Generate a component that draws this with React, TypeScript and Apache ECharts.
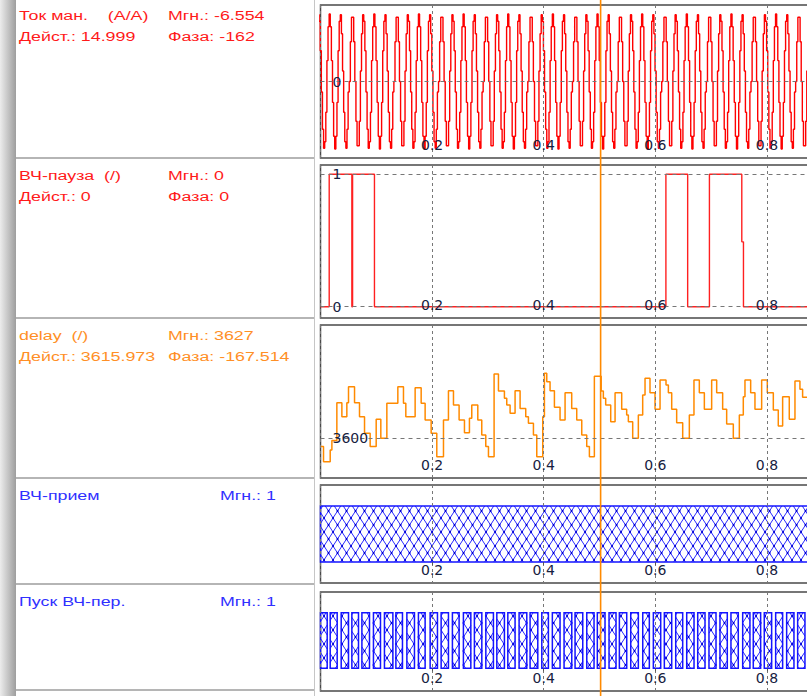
import React, { useEffect, useRef } from "react";
import * as echarts from "echarts";

// ---- channel captions -------------------------------------------------------
const CHANNEL_NAMES = ["Ток ман.    (A/A)", "ВЧ-пауза  (/)", "delay  (/)", "ВЧ-прием", "Пуск ВЧ-пер."];
const CHANNEL_INST = ["Мгн.: -6.554", "Мгн.: 0", "Мгн.: 3627", "Мгн.: 1", "Мгн.: 1"];
const CHANNEL_RMS = ["Дейст.: 14.999", "Дейст.: 0", "Дейст.: 3615.973", "", ""];
const CHANNEL_PHASE = ["Фаза: -162", "Фаза: 0", "Фаза: -167.514", "", ""];

// ---- time axis --------------------------------------------------------------
const X_MIN = 0;
const X_MAX = 1;
const X_STEP = 0.2;
const CURSOR_T = 0.502;

// ---- Ток ман.: 2 ms samples of a 50 Hz current, four successive cycles -------
const CURRENT_PEAK = 21.21;
const CURRENT_T0 = -0.0285;
const CURRENT_DT = 0.002;
const CURRENT_CYCLES = [
  0, 0.588, 0.951, 0.951, 0.588, 0, -0.588, -0.951, -0.951, -0.588,
  0.156, 0.707, 0.988, 0.891, 0.454, -0.156, -0.707, -0.988, -0.891, -0.454,
  0.309, 0.809, 1, 0.809, 0.309, -0.309, -0.809, -1, -0.809, -0.309,
  0.454, 0.891, 0.988, 0.707, 0.156, -0.454, -0.891, -0.988, -0.707, -0.156,
];
const CURRENT_Y_TICKS = [0];

// ---- ВЧ-пауза: [time, state] --------------------------------------------------
const PAUSE_STEPS = [
  [0, 0], [0.0156, 1], [0.0562, 0], [0.0575, 1], [0.0967, 0],
  [0.619, 1], [0.658, 0], [0.697, 1], [0.755, 0.49], [0.758, 0], [1, 0],
];
const PAUSE_Y_TICKS = [0, 1];

// ---- delay: [time, value] -------------------------------------------------------
const DELAY_STEPS = [
  [0, 3596.4], [0.0054, 3589.8], [0.0174, 3594.9], [0.0204, 3599.0], [0.0293, 3615.5],
  [0.0383, 3609.4], [0.0472, 3615.5], [0.0502, 3622.4], [0.061, 3615.5], [0.0699, 3609.4],
  [0.0789, 3602.2], [0.089, 3596.4], [0.0998, 3608.3], [0.1081, 3600.0], [0.1189, 3615.2],
  [0.1386, 3622.4], [0.1487, 3615.2], [0.1529, 3609.4], [0.1696, 3622.0], [0.1804, 3615.2],
  [0.1875, 3608.0], [0.1983, 3602.2], [0.2084, 3592.0], [0.2204, 3608.0], [0.2293, 3620.7],
  [0.2383, 3614.5], [0.2484, 3608.0], [0.258, 3602.4], [0.2669, 3608.7], [0.2711, 3614.5],
  [0.2819, 3608.0], [0.289, 3601.4], [0.2962, 3596.4], [0.301, 3592.0], [0.3111, 3628.0],
  [0.3189, 3620.6], [0.3296, 3617.4], [0.3338, 3614.5], [0.3398, 3610.9], [0.3487, 3620.7],
  [0.3577, 3613.0], [0.3678, 3609.4], [0.3726, 3606.5], [0.3816, 3601.4], [0.3876, 3592.0],
  [0.3983, 3609.4], [0.4013, 3628.3], [0.4055, 3624.6], [0.4114, 3620.7], [0.4192, 3613.5],
  [0.4293, 3608.0], [0.4383, 3619.8], [0.4502, 3612.9], [0.4592, 3608.0], [0.4682, 3601.4],
  [0.4771, 3596.4], [0.4819, 3592.0], [0.4908, 3627.0], [0.503, 3620.6], [0.5069, 3617.4],
  [0.5111, 3614.5], [0.5201, 3607.2], [0.5279, 3619.8], [0.5398, 3612.6], [0.5487, 3610.1],
  [0.5517, 3607.2], [0.5595, 3600.0], [0.5696, 3610.1], [0.5774, 3618.8], [0.5816, 3626.1],
  [0.5905, 3619.8], [0.5995, 3612.6], [0.6085, 3625.4], [0.6192, 3623.2], [0.6234, 3619.8],
  [0.6294, 3612.6], [0.6383, 3606.8], [0.6491, 3600.0], [0.661, 3610.1], [0.6693, 3625.4],
  [0.6789, 3619.8], [0.6879, 3612.6], [0.701, 3625.4], [0.71, 3619.8], [0.7207, 3612.6],
  [0.7279, 3606.2], [0.7398, 3600.0], [0.7506, 3610.1], [0.7577, 3618.1], [0.7607, 3625.4],
  [0.7709, 3619.8], [0.7786, 3612.6], [0.7906, 3625.4], [0.8007, 3619.8], [0.8115, 3612.3],
  [0.8204, 3605.3], [0.8282, 3618.1], [0.8401, 3608.3], [0.8503, 3624.9], [0.8592, 3621.3],
  [0.864, 3617.8], [0.9, 3617.8],
];
const DELAY_Y_TICKS = [3600];

// ---- ВЧ-прием: intervals in state 1 -------------------------------------------
const RECEIVE_ON = [0];
const RECEIVE_OFF = [1];

// ---- Пуск ВЧ-пер.: intervals in state 1 -----------------------------------------
const START_ON = [
  0.0, 0.0174, 0.0371, 0.0562, 0.0742, 0.0949, 0.1146, 0.1351, 0.1548, 0.1755,
  0.1965, 0.2162, 0.2364, 0.2561, 0.2758, 0.2963, 0.316, 0.3357, 0.3559, 0.3756,
  0.3966, 0.4155, 0.4365, 0.4562, 0.4772, 0.4961, 0.5171, 0.5356, 0.556, 0.5775,
  0.5965, 0.6162, 0.6366, 0.6563, 0.676, 0.6962, 0.7159, 0.7356, 0.7566, 0.7756,
  0.7953, 0.8157, 0.8354, 0.8551, 0.875,
];
const START_OFF = [
  0.012, 0.0299, 0.0502, 0.0681, 0.0878, 0.1075, 0.1297, 0.1469, 0.1684, 0.1875,
  0.2096, 0.2293, 0.2484, 0.2694, 0.2891, 0.3099, 0.3296, 0.3487, 0.3697, 0.3894,
  0.4084, 0.4293, 0.4503, 0.47, 0.4902, 0.5099, 0.5296, 0.5488, 0.5696, 0.5893,
  0.6097, 0.6294, 0.6491, 0.6694, 0.6891, 0.7088, 0.729, 0.7487, 0.7696, 0.7888,
  0.8085, 0.8282, 0.8485, 0.8682, 0.888,
];

// ---- layout & styles ------------------------------------------------------------
const PAGE_W = 807;
const PAGE_H = 696;
const PLOT_LEFT = 320.5;
const PLOT_WIDTH = 558;
const PANELS = [
  { top: 5, height: 153, yMin: -24, yMax: 24 },
  { top: 165, height: 153, yMin: -0.085, yMax: 1.07 },
  { top: 325, height: 153, yMin: 3582.7, yMax: 3649.3 },
  { top: 485, height: 98, yMin: -0.375, yMax: 1.375 },
  { top: 592, height: 99, yMin: -0.408, yMax: 1.372 },
];
const ROW_TOPS = [0, 160, 320, 480, 586];
const SEPARATORS = [158, 318, 478, 584, 690];
const CAPTION_COLORS = ["#ff1a1a", "#ff1a1a", "#ff8f26", "#3030ff", "#3030ff"];
const INST_X = [168, 168, 168, 220, 220];
const RED = "#ff0000";
const ORANGE = "#ff8a00";
const BLUE = "#1414ff";
const AXIS_TEXT = "#16213f";
const GRID_DASH = "#777777";
const TEXT_FONT = "Liberation Sans";
const TEXT_SCALE_X = 1.32;
const HATCH_W = 9;
const HATCH_H = 14;

// Cross-hatch clipped to a rectangle (pixel space, lattice anchored to the page).
function hatchInto(children: any[], x0: number, y0: number, x1: number, y1: number) {
  const m = HATCH_H / HATCH_W;
  const lineStyle = { stroke: "#2a2aff", lineWidth: 1 };
  let cmin = y0 - m * x1;
  let cmax = y1 - m * x0;
  for (let n = Math.ceil(cmin / HATCH_H); n <= Math.floor(cmax / HATCH_H); n++) {
    const c = n * HATCH_H;
    const xa = Math.max(x0, (y0 - c) / m);
    const xb = Math.min(x1, (y1 - c) / m);
    if (xb > xa) children.push({ type: "line", shape: { x1: xa, y1: m * xa + c, x2: xb, y2: m * xb + c }, style: lineStyle });
  }
  cmin = y0 + m * x0;
  cmax = y1 + m * x1;
  for (let n = Math.ceil(cmin / HATCH_H); n <= Math.floor(cmax / HATCH_H); n++) {
    const c = n * HATCH_H;
    const xa = Math.max(x0, (c - y1) / m);
    const xb = Math.min(x1, (c - y0) / m);
    if (xb > xa) children.push({ type: "line", shape: { x1: xa, y1: -m * xa + c, x2: xb, y2: -m * xb + c }, style: lineStyle });
  }
  for (let p = Math.ceil((2 * x0) / HATCH_W); p <= Math.floor((2 * x1) / HATCH_W); p++) {
    for (let q = Math.ceil((2 * y0) / HATCH_H); q <= Math.floor((2 * y1) / HATCH_H); q++) {
      if (Math.abs(p + q) % 2 === 0) {
        children.push({ type: "circle", shape: { cx: (p * HATCH_W) / 2, cy: (q * HATCH_H) / 2, r: 1 }, style: { fill: "#0000d0" } });
      }
    }
  }
}

function renderLogicBar(params: any, api: any) {
  const on = api.value(0);
  const off = api.value(1);
  const a = api.coord([on, 1]);
  const b = api.coord([off, 0]);
  const cs = params.coordSys;
  const x0 = Math.max(a[0], cs.x);
  const x1 = Math.min(b[0], cs.x + cs.width);
  const y0 = a[1];
  const y1 = b[1];
  const children: any[] = [];
  if (x1 <= x0) return { type: "group", children };
  hatchInto(children, x0, y0, x1, y1);
  children.push({
    type: "rect",
    shape: { x: x0, y: y0, width: x1 - x0, height: y1 - y0 },
    style: { fill: "none", stroke: BLUE, lineWidth: 1.5 },
  });
  return { type: "group", children };
}

function buildOption(cursorX: number | null) {
  const currentData: number[][] = [];
  const n = Math.ceil((X_MAX - CURRENT_T0) / CURRENT_DT);
  for (let i = 0; i <= n; i++) {
    currentData.push([CURRENT_T0 + i * CURRENT_DT, CURRENT_PEAK * CURRENT_CYCLES[i % CURRENT_CYCLES.length]]);
  }

  const yTicks = [CURRENT_Y_TICKS, PAUSE_Y_TICKS, DELAY_Y_TICKS, null, null];

  const grid = PANELS.map((p) => ({
    left: PLOT_LEFT,
    width: PLOT_WIDTH,
    top: p.top,
    height: p.height,
    show: true,
    containLabel: false,
    outerBoundsMode: "none",
    backgroundColor: "#ffffff",
    borderColor: "#4a4a4a",
    borderWidth: 1.5,
  }));

  const xAxis = PANELS.map((_, i) => ({
    gridIndex: i,
    type: "value",
    min: X_MIN,
    max: X_MAX,
    interval: X_STEP,
    z: 5,
    axisLine: { show: false },
    axisTick: { show: true, inside: false, length: 3, lineStyle: { color: "#555" } },
    axisLabel: {
      inside: true,
      margin: 6,
      showMinLabel: false,
      showMaxLabel: false,
      color: AXIS_TEXT,
      fontSize: 14,
      fontFamily: "DejaVu Sans",
    },
    splitLine: { show: true, lineStyle: { color: GRID_DASH, width: 1, type: [3, 3] } },
  }));

  const yAxis = PANELS.map((p, i) => {
    const ticks = yTicks[i];
    return {
      gridIndex: i,
      type: "value",
      min: p.yMin,
      max: p.yMax,
      z: 5,
      axisLine: { show: false },
      axisTick: ticks ? { show: false, customValues: ticks } : { show: false },
      axisLabel: ticks
        ? {
            show: true,
            inside: true,
            margin: 12,
            customValues: ticks,
            formatter: (v: number) => String(v),
            color: AXIS_TEXT,
            fontSize: 14,
            fontFamily: "DejaVu Sans",
          }
        : { show: false },
      splitLine: ticks
        ? { show: true, lineStyle: { color: GRID_DASH, width: 1, type: [4, 4] } }
        : { show: false },
    };
  });

  const series: any[] = [
    {
      type: "line",
      xAxisIndex: 0,
      yAxisIndex: 0,
      data: currentData,
      step: "end",
      showSymbol: false,
      silent: true,
      lineStyle: { color: RED, width: 1.4 },
    },
    {
      type: "line",
      xAxisIndex: 1,
      yAxisIndex: 1,
      data: PAUSE_STEPS,
      step: "end",
      showSymbol: false,
      silent: true,
      lineStyle: { color: "#ff2020", width: 1.4 },
    },
    {
      type: "line",
      xAxisIndex: 2,
      yAxisIndex: 2,
      data: DELAY_STEPS,
      step: "end",
      showSymbol: false,
      silent: true,
      lineStyle: { color: ORANGE, width: 1.5 },
    },
    {
      type: "custom",
      xAxisIndex: 3,
      yAxisIndex: 3,
      silent: true,
      renderItem: renderLogicBar,
      data: RECEIVE_ON.map((t, i) => [t, RECEIVE_OFF[i]]),
    },
    {
      type: "custom",
      xAxisIndex: 4,
      yAxisIndex: 4,
      silent: true,
      renderItem: renderLogicBar,
      data: START_ON.map((t, i) => [t, START_OFF[i]]),
    },
  ];

  // captions are drawn slightly stretched horizontally, like the recorder's display font
  const textEl = (x: number, y: number, text: string, color: string) => ({
    type: "group",
    x,
    y,
    scaleX: TEXT_SCALE_X,
    scaleY: 1,
    silent: true,
    children: [
      {
        type: "text",
        x: 0,
        y: 0,
        silent: true,
        style: {
          text,
          fill: color,
          fontSize: 13.5,
          fontFamily: TEXT_FONT,
          align: "left",
          verticalAlign: "middle",
          textAlign: "left",
          textVerticalAlign: "middle",
        },
      },
    ],
  });

  const graphic: any[] = [
    {
      type: "rect",
      silent: true,
      shape: { x: 0, y: 0, width: 16, height: PAGE_H },
      style: {
        fill: new echarts.graphic.LinearGradient(0, 0, 1, 0, [
          { offset: 0, color: "#ececec" },
          { offset: 1, color: "#9e9e9e" },
        ]),
      },
    },
    {
      type: "line",
      silent: true,
      shape: { x1: 314.5, y1: 0, x2: 314.5, y2: PAGE_H },
      style: { stroke: "#c6c6c6", lineWidth: 1 },
    },
  ];
  SEPARATORS.forEach((y) => {
    graphic.push({
      type: "line",
      silent: true,
      shape: { x1: 16, y1: y, x2: 314, y2: y },
      style: { stroke: "#b5b5b5", lineWidth: 2 },
    });
  });
  CHANNEL_NAMES.forEach((name, i) => {
    const top = ROW_TOPS[i];
    const c = CAPTION_COLORS[i];
    graphic.push(textEl(19, top + 15, name, c));
    graphic.push(textEl(INST_X[i], top + 15, CHANNEL_INST[i], c));
    if (CHANNEL_RMS[i]) graphic.push(textEl(19, top + 36.5, CHANNEL_RMS[i], c));
    if (CHANNEL_PHASE[i]) graphic.push(textEl(168, top + 36.5, CHANNEL_PHASE[i], c));
  });
  if (cursorX != null) {
    graphic.push({
      type: "line",
      silent: true,
      z: 100,
      shape: { x1: cursorX, y1: 0, x2: cursorX, y2: PAGE_H },
      style: { stroke: ORANGE, lineWidth: 1.6 },
    });
  }

  return {
    animation: false,
    backgroundColor: "#ffffff",
    grid,
    xAxis,
    yAxis,
    series,
    graphic,
  };
}

export default function App() {
  const ref = useRef<HTMLDivElement>(null);
  useEffect(() => {
    if (!ref.current) return;
    const chart = echarts.init(ref.current, undefined, { renderer: "svg" });
    chart.setOption(buildOption(null) as any);
    const px = chart.convertToPixel({ xAxisIndex: 0 }, CURSOR_T) as unknown as number;
    chart.setOption(buildOption(px) as any, { notMerge: true });
    return () => chart.dispose();
  }, []);
  return (
    <div
      ref={ref}
      style={{ position: "fixed", left: 0, top: 0, width: PAGE_W, height: PAGE_H, background: "#fff" }}
    />
  );
}
